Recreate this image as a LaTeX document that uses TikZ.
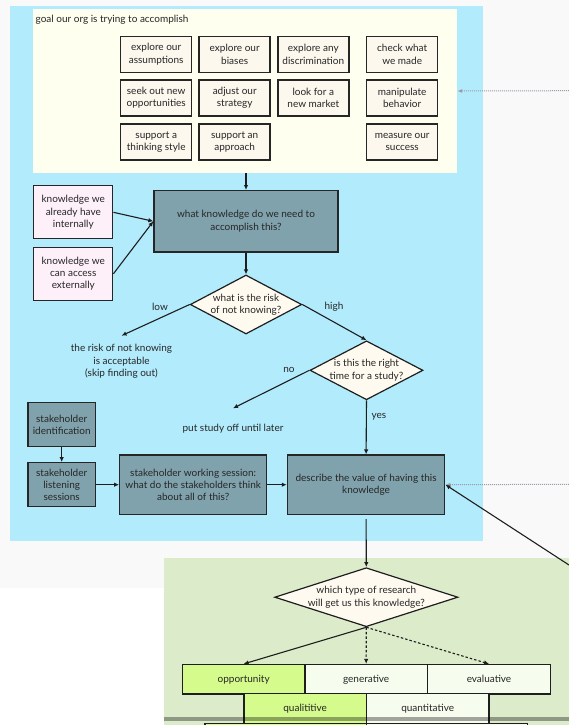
\documentclass[tikz,border=0pt]{standalone}
\usepackage{fontspec}
\setmainfont{Lato}
\usetikzlibrary{arrows.meta,shapes.geometric}
\definecolor{bggrey}{RGB}{249,249,249}
\definecolor{skyblue}{RGB}{178,235,252}
\definecolor{cream}{RGB}{255,255,240}
\definecolor{boxcream}{RGB}{252,248,238}
\definecolor{slate}{RGB}{128,162,172}
\definecolor{pinkish}{RGB}{253,240,248}
\definecolor{diacream}{RGB}{254,250,240}
\definecolor{sage}{RGB}{220,235,201}
\definecolor{lime}{RGB}{212,251,140}
\definecolor{paleg}{RGB}{246,252,238}
\definecolor{ink}{RGB}{38,38,38}
\definecolor{linecol}{RGB}{30,30,30}
\definecolor{dotcol}{RGB}{160,155,170}
\tikzset{
 txt/.style={font=\fontsize{10}{12.3}\selectfont, text=ink, align=center},
 goalbox/.style={txt, draw=ink, line width=1.5pt, fill=boxcream, minimum width=71pt, minimum height=36pt, inner sep=0pt},
 slatebox/.style={txt, draw=ink, line width=1.3pt, fill=slate, inner sep=0pt},
 pinkbox/.style={txt, draw=ink, line width=1.2pt, fill=pinkish, minimum width=79pt, minimum height=53pt, inner sep=0pt},
 dia/.style={diamond, draw=linecol, line width=1.2pt, fill=diacream, inner sep=0pt},
 rowbox/.style={txt, draw=linecol, line width=1.2pt, inner sep=0pt, minimum height=29.5pt},
 arr/.style={draw=linecol, line width=1.1pt, -{Latex[length=5pt,width=4.5pt]}},
 dasharr/.style={arr, dash pattern=on 2.5pt off 2pt},
 dotarr/.style={draw=dotcol, line width=1pt, dash pattern=on 1pt off 1pt, -{Latex[length=5pt,width=4pt]}},
}
\begin{document}
\begin{tikzpicture}[x=1pt,y=-1pt]
\useasboundingbox (0,0) rectangle (569,725);
\clip (0,0) rectangle (569,725);
\fill[white] (0,0) rectangle (569,725);
\fill[bggrey] (0,0) rectangle (569,588);
\fill[skyblue] (9.5,6) rectangle (483,541);
\fill[sage] (163.5,557.7) rectangle (569,725);
\node[fill=cream, inner sep=0pt, minimum width=424.3pt, minimum height=163.4pt] (goal) at (244.85,91) {};
\node[txt, anchor=west, inner sep=0pt] (title) at (35.5,19.5) {goal our org is trying to accomplish};
\node[goalbox] (g11) at (156.2,54.3) {explore our\\assumptions};
\node[goalbox] (g12) at (234.7,54.3) {explore our\\biases};
\node[goalbox] (g13) at (313.3,54.3) {explore any\\discrimination};
\node[goalbox] (g14) at (402.2,54.3) {check what\\we made};
\node[goalbox] (g21) at (156.2,98) {seek out new\\opportunities};
\node[goalbox] (g22) at (234.7,98) {adjust our\\strategy};
\node[goalbox] (g23) at (313.3,98) {look for a\\new market};
\node[goalbox] (g24) at (402.2,98) {manipulate\\behavior};
\node[goalbox] (g31) at (156.2,141.8) {support a\\thinking style};
\node[goalbox] (g32) at (234.7,141.8) {support an\\approach};
\node[goalbox] (g34) at (402.2,141.8) {measure our\\success};
\node[slatebox, minimum width=184pt, minimum height=61.3pt] (know) at (246,221.3) {what knowledge do we need to\\accomplish this?};
\node[pinkbox] (p1) at (73.3,212.3) {knowledge we\\already have\\internally};
\node[pinkbox] (p2) at (73.3,273.8) {knowledge we\\can access\\externally};
\node[dia, minimum width=111.5pt, minimum height=59pt, label={[txt]center:what is the risk\\of not knowing?}] (d1) at (246,304.5) {};
\node[dia, minimum width=113pt, minimum height=59pt, label={[txt]center:is this the right\\time for a study?}] (d2) at (366.5,370.3) {};
\node[txt] (risk) at (121.5,361.5) {the risk of not knowing\\is acceptable\\(skip finding out)};
\coordinate (riskin) at (121.5,335.7);
\node[txt] (later) at (233,428.7) {put study off until later};
\coordinate (laterin) at (233,408.3);
\node[txt] (lowlbl) at (160,306.7) {low};
\node[txt] (highlbl) at (334,306.7) {high};
\node[txt] (nolbl) at (289,370) {no};
\node[txt] (yeslbl) at (379,416.7) {yes};
\node[slatebox, minimum width=67.4pt, minimum height=44pt] (ident) at (61.7,424.7) {stakeholder\\identification};
\node[slatebox, minimum width=67.4pt, minimum height=44pt] (listen) at (61.7,484.7) {stakeholder\\listening\\sessions};
\node[slatebox, minimum width=147pt, minimum height=59.3pt] (work) at (193.2,484.7) {stakeholder working session:\\what do the stakeholders think\\about all of this?};
\node[slatebox, minimum width=157.4pt, minimum height=59.3pt] (desc) at (366.1,484.7) {describe the value of having this\\knowledge};
\node[dia, minimum width=183.3pt, minimum height=59pt, label={[txt]center:which type of research\\will get us this knowledge?}] (d3) at (366.3,597.2) {};
\node[rowbox, fill=lime, minimum width=122.7pt] (opp) at (243.65,679.25) {opportunity};
\node[rowbox, fill=paleg, minimum width=122.3pt] (gen) at (366.15,679.25) {generative};
\node[rowbox, fill=paleg, minimum width=123.4pt] (eval) at (489,679.25) {evaluative};
\node[rowbox, fill=lime, minimum width=122.3pt] (qual) at (305.15,708.5) {qualititive};
\node[rowbox, fill=paleg, minimum width=122.7pt] (quant) at (427.65,708.5) {quantitative};
\node[rowbox, fill=lime, minimum width=161.3pt, minimum height=30pt] (r3a) at (285.65,738.5) {};
\node[rowbox, fill=paleg, minimum width=161.4pt, minimum height=30pt] (r3b) at (447,738.5) {};
\fill[black, opacity=0.35] (163.5,716.7) rectangle (569,721);
\draw[arr] (know.north |- goal.south) -- (know.north);
\draw[arr] (p1.east) -- (know.west);
\draw[arr] (p2.east) -- (know.west);
\draw[arr] (know.south) -- (d1.north);
\draw[arr] (d1.west) -- (riskin);
\draw[arr] (d1.east) -- (d2.north);
\draw[arr] (d2.west) -- (laterin);
\draw[arr] (d2.south) -- (desc.north);
\draw[arr] (ident.south) -- (listen.north);
\draw[arr] (listen.east) -- (work.west);
\draw[arr] (work.east) -- (desc.west);
\draw[arr, shorten <=4pt] (desc.south) -- (d3.north);
\draw[arr] (d3.south) -- (opp.north);
\draw[dasharr] (d3.south) -- (gen.north);
\draw[dasharr] (d3.south) -- (eval.north);
\coordinate (rin1) at (569,90.7);
\coordinate (rin2) at (569,484.3);
\coordinate (rin3) at (569,565);
\draw[dotarr] (rin1) -- (goal.east);
\draw[dotarr] (rin2) -- (desc.east);
\draw[arr] (rin3) -- (desc.east);
\end{tikzpicture}
\end{document}
